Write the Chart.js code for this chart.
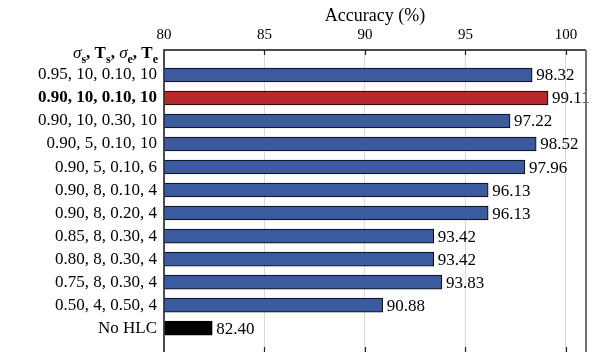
<!DOCTYPE html>
<html>
<head>
<meta charset="utf-8">
<script src="https://cdn.jsdelivr.net/npm/chart.js@4/dist/chart.umd.min.js"></script>
<style>
  html, body { margin: 0; padding: 0; width: 592px; height: 352px; overflow: hidden; background: #fff; }
  canvas { display: block; }
</style>
</head>
<body>
<canvas id="c" width="592" height="352"></canvas>
<script>
// Parameter settings (sigma_s, T_s, sigma_e, T_e) and their accuracy
const categories = [
  '0.95, 10, 0.10, 10',
  '0.90, 10, 0.10, 10',
  '0.90, 10, 0.30, 10',
  '0.90, 5, 0.10, 10',
  '0.90, 5, 0.10, 6',
  '0.90, 8, 0.10, 4',
  '0.90, 8, 0.20, 4',
  '0.85, 8, 0.30, 4',
  '0.80, 8, 0.30, 4',
  '0.75, 8, 0.30, 4',
  '0.50, 4, 0.50, 4',
  'No HLC'
];
const accuracy = [98.32, 99.11, 97.22, 98.52, 97.96, 96.13, 96.13, 93.42, 93.42, 93.83, 90.88, 82.40];
const xTicks = [80, 85, 90, 95, 100];
const bestIndex = 1;
const baselineIndex = 11;

const SERIF = '"Liberation Serif", "Times New Roman", serif';
const BLUE = '#3c5a9e';
const RED = '#b7282d';
const Y_MIN = -1.087;
const Y_MAX = 12.04;

const barColors = accuracy.map((_, i) => i === bestIndex ? RED : (i === baselineIndex ? '#000000' : BLUE));

// Frame, inward tick marks, value labels and the column header
const decorations = {
  id: 'decorations',
  afterDatasetsDraw(chart) {
    const ctx = chart.ctx;
    const meta = chart.getDatasetMeta(0);
    ctx.save();
    ctx.fillStyle = '#000';
    ctx.font = '17px ' + SERIF;
    ctx.textBaseline = 'middle';
    ctx.textAlign = 'left';
    meta.data.forEach((el, i) => {
      ctx.fillText(accuracy[i].toFixed(2), el.x + 4, el.y + 1);
    });
    ctx.restore();
  },
  afterDraw(chart) {
    const ctx = chart.ctx;
    const a = chart.chartArea;
    const xs = chart.scales.x;
    ctx.save();
    // inward tick marks on top and bottom edges
    ctx.strokeStyle = '#222';
    ctx.lineWidth = 1.2;
    xTicks.forEach(v => {
      if (v === xTicks[0]) return;
      const px = Math.round(xs.getPixelForValue(v)) + 0.5;
      ctx.beginPath();
      ctx.moveTo(px, a.top); ctx.lineTo(px, a.top + 5);
      ctx.moveTo(px, a.bottom); ctx.lineTo(px, a.bottom - 5);
      ctx.stroke();
    });
    // frame
    ctx.strokeStyle = '#111';
    ctx.lineWidth = 1.5;
    ctx.beginPath();
    ctx.moveTo(a.left, a.bottom); ctx.lineTo(a.left, a.top); ctx.lineTo(a.right, a.top);
    ctx.stroke();
    ctx.strokeStyle = '#707070';
    ctx.lineWidth = 2;
    ctx.beginPath();
    ctx.moveTo(a.right, a.top); ctx.lineTo(a.right, a.bottom);
    ctx.stroke();

    // column header: σ_s, T_s, σ_e, T_e
    const parts = [
      { t: 'σ', f: 'italic 17px ' + SERIF, dy: 0 },
      { t: 's', f: 'bold 12px ' + SERIF, dy: 5 },
      { t: ', ', f: 'bold 17px ' + SERIF, dy: 0 },
      { t: 'T', f: 'bold 17px ' + SERIF, dy: 0 },
      { t: 's', f: 'bold 12px ' + SERIF, dy: 5 },
      { t: ', ', f: 'bold 17px ' + SERIF, dy: 0 },
      { t: 'σ', f: 'italic 17px ' + SERIF, dy: 0 },
      { t: 'e', f: 'bold 12px ' + SERIF, dy: 5 },
      { t: ', ', f: 'bold 17px ' + SERIF, dy: 0 },
      { t: 'T', f: 'bold 17px ' + SERIF, dy: 0 },
      { t: 'e', f: 'bold 12px ' + SERIF, dy: 5 }
    ];
    ctx.fillStyle = '#000';
    ctx.textBaseline = 'alphabetic';
    ctx.textAlign = 'left';
    let total = 0;
    parts.forEach(p => { ctx.font = p.f; p.w = ctx.measureText(p.t).width; total += p.w; });
    let x = a.left - 6 - total;
    const baseY = a.top + 8;
    parts.forEach(p => { ctx.font = p.f; ctx.fillText(p.t, x, baseY + p.dy); x += p.w; });
    ctx.restore();
  }
};

new Chart(document.getElementById('c'), {
  type: 'bar',
  data: {
    datasets: [{
      data: accuracy.map((v, i) => ({ x: v, y: i })),
      backgroundColor: barColors,
      borderColor: '#000',
      borderWidth: 1,
      borderSkipped: 'start',
      base: 80,
      barThickness: 14
    }]
  },
  options: {
    indexAxis: 'y',
    responsive: false,
    animation: false,
    layout: { padding: { left: 0, right: 6, top: 0, bottom: 0 } },
    plugins: { legend: { display: false }, tooltip: { enabled: false } },
    scales: {
      x: {
        type: 'linear',
        position: 'top',
        min: 80,
        max: 101,
        afterBuildTicks(scale) { scale.ticks = xTicks.map(v => ({ value: v })); },
        afterFit(scale) {
          scale.height = 50;
          scale.paddingLeft = 0; scale.paddingRight = 0;
          scale.paddingTop = 0; scale.paddingBottom = 0;
        },
        ticks: { color: '#000', font: { family: SERIF, size: 15 }, padding: 6 },
        grid: {
          drawTicks: false,
          color: ctx => ctx.tick && ctx.tick.value === 80 ? 'rgba(0,0,0,0)' : '#d9d9d9',
          lineWidth: 1
        },
        border: { display: false },
        title: {
          display: true,
          text: 'Accuracy (%)',
          color: '#000',
          font: { family: SERIF, size: 18 },
          padding: { top: 5, bottom: 0 }
        }
      },
      y: {
        type: 'linear',
        reverse: true,
        offset: false,
        bounds: 'data',
        min: Y_MIN,
        max: Y_MAX,
        afterBuildTicks(scale) {
          scale.ticks = categories.map((_, i) => ({ value: i }));
          scale.min = Y_MIN;
          scale.max = Y_MAX;
        },
        afterFit(scale) {
          scale.width = 164;
          scale.paddingLeft = 0; scale.paddingRight = 0;
          scale.paddingTop = 0; scale.paddingBottom = 0;
        },
        ticks: {
          color: '#000',
          padding: 7,
          callback: v => categories[v],
          font: ctx => ({
            family: SERIF,
            size: 17,
            weight: ctx.tick && ctx.tick.value === bestIndex ? 'bold' : 'normal'
          })
        },
        grid: { display: false, drawTicks: false, offset: false },
        border: { display: false }
      }
    }
  },
  plugins: [decorations]
});
</script>
</body>
</html>
